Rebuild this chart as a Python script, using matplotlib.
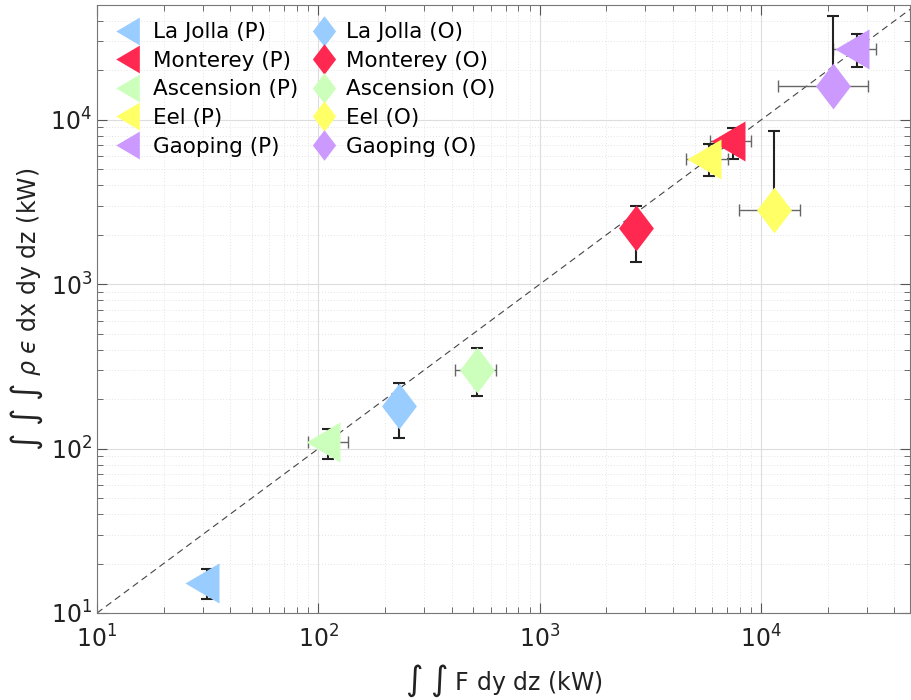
import numpy as np
import matplotlib.pyplot as plt
from matplotlib.lines import Line2D

# site names and colours
sites = ['La Jolla', 'Monterey', 'Ascension', 'Eel', 'Gaoping']
colors = ['#99CCFF', '#FF2850', '#CCFFBB', '#FFFF66', '#CC99FF']

# (P) estimates: flux integral (x) vs dissipation integral (y), kW
p_x = [31.4, 7430, 111, 5800, 27000]
p_x_lo = [31.4, 5850, 89.8, 4560, 21200]
p_x_hi = [31.4, 8980, 136, 7060, 32900]
p_y = [15.2, 7400, 110, 5750, 26800]
p_y_lo = [12.2, 5750, 86.3, 4540, 21100]
p_y_hi = [18.5, 8870, 131.6, 7100, 33100]

# (O) estimates
o_x = [231, 2710, 520, 11380, 21000]
o_x_lo = [231, 2710, 413, 7910, 11860]
o_x_hi = [231, 2710, 632, 14900, 30300]
o_y = [181, 2188, 300, 2820, 16000]
o_y_lo = [116, 1361, 208, 2500, 14000]
o_y_hi = [250, 2980, 408, 8510, 42600]

one_to_one = [10, 1e5]

# marker shapes (MATLAB-like: centroid-centred triangle, tall diamond)
tri = [(-1, 0), (0.545, 0.91), (0.545, -0.91), (-1, 0)]
dia = [(0, 1), (0.76, 0), (0, -1), (-0.76, 0), (0, 1)]

fig = plt.figure(figsize=(9.11, 7.0), dpi=100)
ax = fig.add_axes([0.1065, 0.1243, 0.8924, 0.8686])
ax.set_xscale('log')
ax.set_yscale('log')

ax.plot(one_to_one, one_to_one, '--', color='#444444', lw=0.8, dashes=(6, 4), zorder=2)


def draw(x, xlo, xhi, y, ylo, yhi, marker, ms):
    for i in range(len(x)):
        xe = np.array([[x[i] - xlo[i]], [xhi[i] - x[i]]])
        ye = np.array([[y[i] - ylo[i]], [yhi[i] - y[i]]])
        if xe.sum() > 0:
            ax.errorbar(x[i], y[i], xerr=xe, fmt='none', ecolor='#666666',
                        elinewidth=1.0, capsize=4, capthick=1.0, zorder=3)
        ax.errorbar(x[i], y[i], yerr=ye, fmt='none', ecolor='#222222',
                    elinewidth=1.5, capsize=4, capthick=1.5, zorder=3)
        ax.plot(x[i], y[i], marker=marker, ms=ms, color=colors[i],
                mec='none', ls='none', zorder=4)


draw(p_x, p_x_lo, p_x_hi, p_y, p_y_lo, p_y_hi, tri, 31.7)
draw(o_x, o_x_lo, o_x_hi, o_y, o_y_lo, o_y_hi, dia, 33)

ax.set_xlim(10, 4.7e4)
ax.set_ylim(10, 5e4)

ax.grid(True, which='major', color='#dddddd', lw=0.8)
ax.grid(True, which='minor', color='#e4e4e4', lw=0.7, ls=(0, (1, 2)))
ax.set_axisbelow(True)
ax.tick_params(which='both', direction='in', top=True, right=True,
               colors='#555555', labelcolor='#222222')
ax.tick_params(which='major', length=7, labelsize=17)
ax.tick_params(axis='x', which='major', pad=9)
ax.tick_params(which='minor', length=4)
for s in ax.spines.values():
    s.set_color('#777777')

ax.set_xlabel(r'$\int\ \int$ F dy dz (kW)', fontsize=17, color='#222222',
              labelpad=7)
ax.set_ylabel(r'$\int\ \int\ \int\ \rho\ $' + '$\u03f5$ dx dy dz (kW)', fontsize=17,
              color='#222222')

handles = []
for i, s in enumerate(sites):
    handles.append(Line2D([], [], marker=tri, ms=22, color=colors[i], mec='none',
                          ls='none', label=s + ' (P)'))
for i, s in enumerate(sites):
    handles.append(Line2D([], [], marker=dia, ms=22, color=colors[i], mec='none',
                          ls='none', label=s + ' (O)'))
ax.legend(handles=handles, ncol=2, loc='upper left', frameon=False, fontsize=15.5,
          handletextpad=0.2, labelspacing=0.4, columnspacing=0.4,
          borderaxespad=0.3, borderpad=0.5, handlelength=1.6)

fig.savefig('out.png', dpi=100)
